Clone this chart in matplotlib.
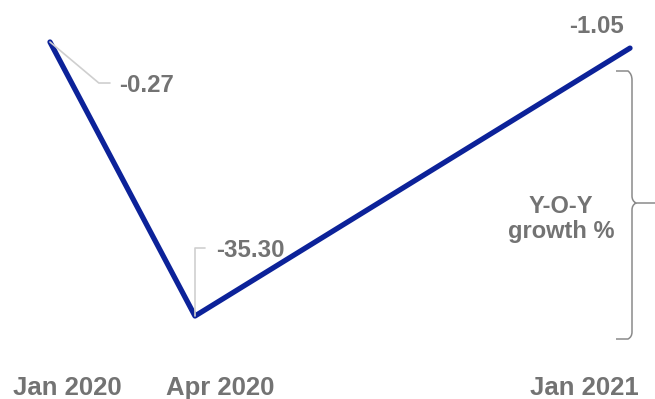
import numpy as np
import matplotlib.pyplot as plt
from matplotlib.path import Path
from matplotlib.patches import PathPatch

# data
months = [0, 3, 12]  # months since Jan 2020
values = [-0.27, -35.30, -1.05]
tick_labels = ["Jan 2020", "Apr 2020", "Jan 2021"]
value_labels = ["-0.27", "-35.30", "-1.05"]

LINE_COLOR = "#0c2299"
TEXT_COLOR = "#737373"
LEADER_COLOR = "#cfcfcf"
FONT = "Liberation Sans"

plt.rcParams['font.family'] = [FONT, 'DejaVu Sans']

PX = 0.72  # points per pixel at dpi 100

fig = plt.figure(figsize=(6.55, 3.99), dpi=100)
ax = fig.add_axes([0, 0, 1, 1])
ax.set_xlim(-1.034, 12.517)
ax.set_ylim(-45.91, 5.10)
ax.axis("off")

ax.plot(months, values, color=LINE_COLOR, lw=3.8, solid_capstyle="round",
        solid_joinstyle="round", zorder=3)

fs = 17.3
# -0.27 label with leader line
ax.annotate(value_labels[0], xy=(months[0], values[0]), xytext=(69 * PX, -50 * PX),
            textcoords="offset points", color=TEXT_COLOR, fontsize=fs,
            fontweight="bold", va="baseline", ha="left")
ax.annotate("", xy=(months[0], values[0]), xytext=(60 * PX, -41 * PX),
            textcoords="offset points",
            arrowprops=dict(arrowstyle="-", color=LEADER_COLOR, lw=1.2,
                            connectionstyle="angle,angleA=0,angleB=-40,rad=0",
                            shrinkA=0, shrinkB=0))

# -35.30 label with leader line
ax.annotate(value_labels[1], xy=(months[1], values[1]), xytext=(21 * PX, 59 * PX),
            textcoords="offset points", color=TEXT_COLOR, fontsize=fs,
            fontweight="bold", va="baseline", ha="left")
ax.annotate("", xy=(months[1], values[1]), xytext=(10 * PX, 68 * PX),
            textcoords="offset points",
            arrowprops=dict(arrowstyle="-", color=LEADER_COLOR, lw=1.2,
                            connectionstyle="angle,angleA=0,angleB=90,rad=0",
                            shrinkA=0, shrinkB=0))

# -1.05 label above end point
ax.annotate(value_labels[2], xy=(months[2], values[2]), xytext=(-34 * PX, 15 * PX),
            textcoords="offset points", color=TEXT_COLOR, fontsize=fs,
            fontweight="bold", va="baseline", ha="center")

# x labels
tick_offsets = [17, 25, -46]  # px from the point
for m, lab, off in zip(months, tick_labels, tick_offsets):
    ax.annotate(lab, xy=(m, -45.91), xytext=(off * PX, 4 * PX),
                textcoords="offset points", color=TEXT_COLOR, fontsize=18.5,
                fontweight="bold", ha="center", va="baseline",
                annotation_clip=False)

# brace on the right (figure fraction coords, y from top in px)
W, H = 655, 399
def P(x, y):
    return (x / W, 1 - y / H)

verts = [P(616, 71), P(628, 71), P(632, 74), P(632, 80),
         P(632, 196), P(632, 201), P(636, 203), P(655, 203),
         P(636, 203), P(632, 205), P(632, 210),
         P(632, 332), P(632, 337), P(628, 339), P(616, 339)]
codes = [Path.MOVETO, Path.LINETO, Path.CURVE3, Path.CURVE3,
         Path.LINETO, Path.CURVE3, Path.CURVE3, Path.LINETO,
         Path.MOVETO, Path.CURVE3, Path.CURVE3,
         Path.LINETO, Path.CURVE3, Path.CURVE3, Path.LINETO]
brace = PathPatch(Path(verts, codes), transform=fig.transFigure,
                  fill=False, edgecolor="#8a8a8a", lw=1.1)
fig.patches.append(brace)

fig.text(561 / W, 1 - 219 / H, "Y-O-Y\ngrowth %", color=TEXT_COLOR,
         fontsize=17, fontweight="bold", ha="center", va="center",
         linespacing=1.1)

fig.savefig("out.png", dpi=100)
